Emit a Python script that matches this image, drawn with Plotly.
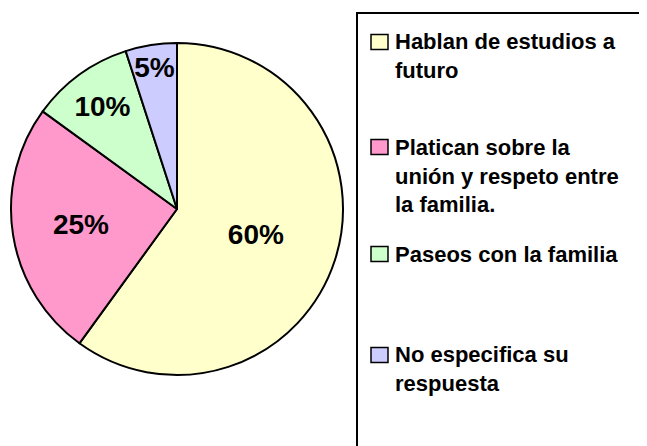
import plotly.graph_objects as go

# --- data ---
labels = [
    "Hablan de estudios a<br>futuro",
    "Platican sobre la<br>unión y respeto entre<br>la familia.",
    "Paseos con la familia",
    "No especifica su<br>respuesta",
]
values = [60, 25, 10, 5]
colors = ["#FFFFCC", "#FF99CC", "#CCFFCC", "#CCCCFF"]

FONT = "Arial, Liberation Sans, sans-serif"
W, H = 647, 446
OFF = 8  # page body margin in front of the plot div


def px(x):
    return (x - OFF) / W


def py(y):
    return 1 - (y - OFF) / H


fig = go.Figure(
    go.Pie(
        labels=labels,
        values=values,
        sort=False,
        direction="clockwise",
        rotation=0,
        marker=dict(colors=colors, line=dict(color="black", width=2)),
        texttemplate="%{percent:.0%}",
        textposition="inside",
        insidetextorientation="horizontal",
        textfont=dict(family=FONT, size=28, color="black", weight="bold"),
        domain=dict(x=[px(11), px(343)], y=[py(375), py(43)]),
        showlegend=False,
        hoverinfo="label+percent",
    )
)

# --- hand-built legend box (runs off the right/bottom edge like the source) ---
shapes = [
    dict(type="rect", xref="paper", yref="paper",
         x0=px(357), x1=1.1, y0=-0.1, y1=py(13),
         line=dict(color="black", width=2), fillcolor="rgba(0,0,0,0)"),
]
annotations = []
first_line_centres = [42, 147, 254, 355]
fs = 22
line_gap = 1.3 * fs
for lab, col, c in zip(labels, colors, first_line_centres):
    n = lab.count("<br>") + 1
    shapes.append(dict(type="rect", xref="paper", yref="paper",
                       x0=px(371), x1=px(388), y0=py(c + 7.5), y1=py(c - 7.5),
                       line=dict(color="black", width=1.5), fillcolor=col))
    annotations.append(dict(
        x=px(393), y=py(c + (n - 1) * line_gap / 2), xref="paper", yref="paper",
        text=lab, showarrow=False, xanchor="left", yanchor="middle", align="left",
        font=dict(family=FONT, size=fs, color="black", weight="bold"),
    ))

fig.update_layout(
    width=W, height=H,
    margin=dict(l=0, r=0, t=0, b=0),
    paper_bgcolor="white",
    plot_bgcolor="white",
    uniformtext=dict(minsize=28, mode="show"),
    shapes=shapes,
    annotations=annotations,
)

fig.write_html("out.html")
